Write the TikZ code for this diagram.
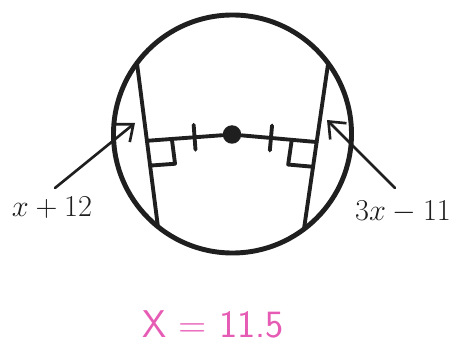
\documentclass[tikz,border=0pt]{standalone}
\usepackage{xcolor}
\usepackage{tikz}
\usetikzlibrary{arrows.meta,calc}
\definecolor{ink}{HTML}{1F1F1F}
\definecolor{pen}{HTML}{E65CB5}

\begin{document}
\begin{tikzpicture}[x=0.02cm,y=-0.02cm,line cap=round,line join=round,
  rim/.style={ink,line width=2.8pt},
  chordline/.style={ink,line width=2.2pt},
  centredot/.style={circle,fill=ink,inner sep=0pt,minimum width=0.34cm,minimum height=0.37cm},
  pointer/.style={ink,line width=1.5pt,-{Straight Barb[length=2.8mm,width=4.6mm]}},
  expr/.style={text=ink,font=\fontsize{16}{18}\selectfont},
  answer/.style={text=pen,font=\sffamily\fontsize{22}{24}\selectfont}]
\useasboundingbox (0,0) rectangle (456,347);
% circle, centre
\coordinate (O) at (232.5,134);
\draw[rim] (O) circle[radius=119];
\node[centredot] (c) at (232,134.5) {};
% two chords
\coordinate (AL) at ($(O)+(216.6:119)$); \coordinate (BL) at ($(O)+(128.8:119)$);
\coordinate (AR) at ($(O)+(-36.5:119)$); \coordinate (BR) at ($(O)+(53.1:119)$);
\draw[chordline] (AL) -- (BL); \draw[chordline] (AR) -- (BR);
% distances to the chords
\coordinate (FL) at ($(AL)!0.475!(BL)$); \coordinate (FR) at ($(AR)!0.475!(BR)$);
\draw[chordline] (FL) -- (c); \draw[chordline] (FR) -- (c);
% right angles
\coordinate (L1) at ($(FL)!0.5cm!(c)$); \coordinate (L2) at ($(FL)!0.5cm!(BL)$);
\draw[chordline] (L1) -- ($(L1)+(L2)-(FL)$) -- (L2);
\coordinate (R1) at ($(FR)!0.5cm!(c)$); \coordinate (R2) at ($(FR)!0.5cm!(BR)$);
\draw[chordline] (R1) -- ($(R1)+(R2)-(FR)$) -- (R2);
% equal marks
\coordinate (TL) at ($(FL)!0.56!(c)$); \coordinate (TR) at ($(FR)!0.54!(c)$);
\draw[chordline] ($(TL)!0.25cm!90:(c)$) -- ($(TL)!0.25cm!-90:(c)$);
\draw[chordline] ($(TR)!0.25cm!90:(c)$) -- ($(TR)!0.25cm!-90:(c)$);
% chord lengths
\node[expr] (xl) at (52,208) {$x+12$};
\node[expr] (xr) at (403,212) {$3x-11$};
\coordinate (tl) at (55,188); \coordinate (hl) at (135,123);
\coordinate (tr) at (395,188); \coordinate (hr) at (327,120);
\draw[pointer] (tl) -- (hl); \draw[pointer] (tr) -- (hr);
% worked answer
\node[answer] (ans) at (213,324) {X = 11.5};
\end{tikzpicture}
\end{document}
